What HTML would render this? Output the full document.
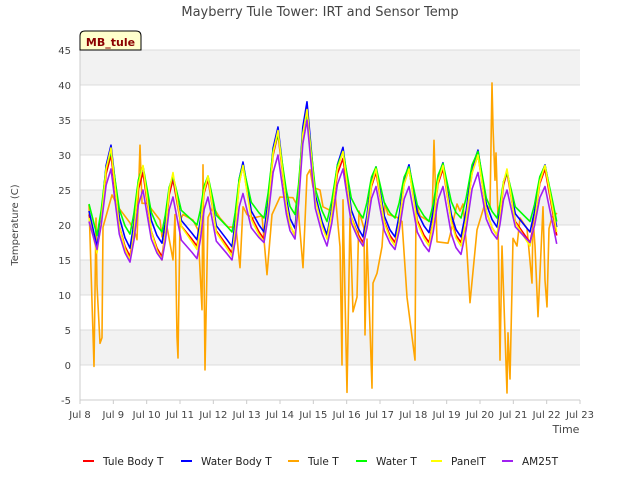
<!DOCTYPE html>
<html><head><meta charset="utf-8"><style>
body{margin:0;background:#fff;font-family:"DejaVu Sans","Liberation Sans",sans-serif}
svg text{font-family:"DejaVu Sans","Liberation Sans",sans-serif}
</style></head><body>
<svg id="chart" width="640" height="480" xmlns="http://www.w3.org/2000/svg">
<rect width="640" height="480" fill="#fff"/>
<text x="320" y="16" text-anchor="middle" font-size="13" fill="#444">Mayberry Tule Tower: IRT and Sensor Temp</text>
<g id="bands"></g><g id="grid"></g><g id="axes"></g><g id="series"></g>
<g>
<path d="M80,50 L80,36 Q80,31 85,31 L136,31 Q141,31 141,36 L141,50 Z" fill="#ffffcc" stroke="#000" stroke-width="1"/>
<text x="110.5" y="46" text-anchor="middle" font-size="11" font-weight="bold" fill="#8b0000">MB_tule</text>
</g>
<text x="566" y="433" text-anchor="middle" font-size="11" fill="#444">Time</text>
<text transform="translate(18,225) rotate(-90)" text-anchor="middle" font-size="10" fill="#444">Temperature (C)</text>
<g id="legend"></g>
</svg>
<script>
const xTickLabels=["Jul 8","Jul 9","Jul 10","Jul 11","Jul 12","Jul 13","Jul 14","Jul 15","Jul 16","Jul 17","Jul 18","Jul 19","Jul 20","Jul 21","Jul 22","Jul 23"];
const yTicks=[-5,0,5,10,15,20,25,30,35,40,45];
const troughTimes=[0.51,1.5,2.46,3.51,4.56,5.52,6.45,7.41,8.49,9.45,10.47,11.43,12.51,13.5];
const peakTimes=[0.93,1.89,2.79,3.84,4.89,5.94,6.81,7.89,8.88,9.87,10.89,11.94,12.81,13.95];
const blueT=[16.9,16.7,17.4,17.9,16.9,19,19.5,18.6,18.3,18.3,18.9,18.3,19.7,19];
const blueP=[31.4,28.3,27.1,26.9,29,34,37.6,31.1,28.3,28.6,28.9,30.7,27.7,28.6];
const greenT=[18.5,18.7,19,20,19,21,21.5,20.5,21,21,20.5,21,21,20.5];
const greenP=[30.5,28.4,27,27,28.5,33,36,30.5,28.3,28.3,28.8,30.5,27.5,28.5];
const redT=[16.5,15.5,15.5,17,16,18,18.5,18.5,17.5,17.5,17.5,17.5,18.5,17.5];
const redP=[30,27.5,26.5,26.5,28.5,33,37,29.5,27.5,28,28,30,27.5,28];
const yellowT=[16,15,15,16.5,15.5,17.5,18.5,18,17,17,17,17,18.5,17];
const yellowP=[31,28.5,27.5,27,28.5,33.5,36.5,30.5,28,28,28.5,30,28,28.5];
const purpleT=[16.5,14.7,15,15.2,15,17.5,18,17,17,16.5,16.2,15.8,18,17.5];
const purpleP=[28,25,24,24,24.5,30,35,28,25.5,25.5,25.5,27.5,25,25.5];
const startVals=[21.5,22,23,21,20.5];
const endVals=[18.5,19.7,20.5,19,17.3];
const tuleTimes=[0.27,0.42,0.48,0.51,0.6,0.66,0.69,0.96,1.14,1.5,1.65,1.71,1.8,1.86,2.01,2.4,2.46,2.58,2.79,2.85,2.91,2.94,3.0,3.09,3.39,3.54,3.66,3.69,3.75,3.84,3.99,4.2,4.44,4.68,4.8,4.89,5.01,5.19,5.46,5.61,5.76,6.0,6.39,6.54,6.69,6.81,6.9,6.99,7.2,7.29,7.5,7.65,7.8,7.86,7.89,8.01,8.1,8.19,8.31,8.37,8.52,8.55,8.61,8.76,8.79,8.91,9.06,9.15,9.24,9.51,9.66,9.81,10.05,10.08,10.2,10.41,10.56,10.62,10.71,11.04,11.1,11.31,11.4,11.49,11.61,11.7,11.91,12.15,12.3,12.36,12.39,12.45,12.48,12.54,12.6,12.66,12.81,12.84,12.9,12.96,12.99,13.11,13.2,13.41,13.56,13.59,13.65,13.74,13.89,13.95,14.01,14.07,14.16,14.31];
const tuleVals=[22.9,-0.2,21,11.4,3.1,3.9,19.7,24.3,22.6,20.3,18.9,17.9,31.4,23.1,23.1,20.7,18.3,20.5,15,21.5,4,1,20.7,21.5,20.7,19.3,7.9,28.6,-0.7,21.1,22.6,21,19.7,19.7,13.9,22.6,21.5,21,21.3,12.9,21.5,24,23.9,22.6,13.9,27.1,27.9,25.4,25,22.6,22.1,24.7,16.9,0,23.6,-3.9,21,7.6,9.7,22,19.5,4.3,18,-3.3,11.7,13.1,16.9,23.1,21.5,21.1,20.5,9.7,0.7,23.1,21.3,20.7,20.4,32.1,17.6,17.4,18.5,23,22,23,16.1,8.9,19.3,23.1,22.3,40.3,34,26.4,30.3,21,0.7,17,-4,4.6,-2,11,18.1,17,21,19.5,11.7,21,17,6.9,22.6,12.1,8.3,19.5,21.1,21.7];

const NS="http://www.w3.org/2000/svg";
const X0=80,X1=580,Y0=50,Y1=400;
function xScale(d){return X0+d*(X1-X0)/15;}
function yScale(v){return Y1-(v+5)*(Y1-Y0)/50;}
function mk(tag,attrs,parent){const e=document.createElementNS(NS,tag);for(const k in attrs)e.setAttribute(k,attrs[k]);parent.appendChild(e);return e;}
const bands=document.getElementById('bands'),grid=document.getElementById('grid'),axes=document.getElementById('axes');
for(let i=0;i<yTicks.length-1;i++){
  if(i%2===1){const b=mk('rect',{x:X0,y:yScale(yTicks[i+1]),width:X1-X0,height:yScale(yTicks[i])-yScale(yTicks[i+1]),fill:'#f2f2f2'},bands);
  
  }
}
yTicks.forEach(v=>{
  const l=mk('line',{x1:X0,x2:X1,y1:yScale(v),y2:yScale(v),stroke:'#dcdcdc','stroke-width':1},grid);
  
  
  const t=mk('text',{x:X0-9,y:yScale(v)+4,'text-anchor':'end','font-size':10,fill:'#444'},axes);
  t.textContent=v;
  
  
});
mk('line',{x1:X0,x2:X0,y1:Y0,y2:Y1,stroke:'#ccc'},axes);
mk('line',{x1:X0,x2:X1,y1:Y1,y2:Y1,stroke:'#ccc'},axes);
xTickLabels.forEach((s,i)=>{
  const x=xScale(i);
  mk('line',{x1:x,x2:x,y1:Y1,y2:Y1+4,stroke:'#ccc'},axes);
  const t=mk('text',{x:x,y:418,'text-anchor':'middle','font-size':10,fill:'#444'},axes);
  t.textContent=s;
  
  
});
function build(T,P,s,e){
  const pts=[[0.27,s]];
  for(let k=0;k<T.length;k++){
    const nT=k+1<T.length?T[k+1]:e;
    const tt=troughTimes[k],pt=peakTimes[k];
    const rise=pt-tt;
    pts.push([tt,T[k]]);
    pts.push([tt+rise*0.3,T[k]+0.3*(P[k]-T[k])]);
    pts.push([tt+rise*0.65,T[k]+0.8*(P[k]-T[k])]);
    pts.push([pt,P[k]]);
    pts.push([pt+0.1,nT+0.72*(P[k]-nT)]);
    pts.push([pt+0.25,nT+0.3*(P[k]-nT)]);
    if(k+1<T.length) pts.push([troughTimes[k+1]-0.15,nT+0.1*(P[k]-nT)]);
  }
  pts.push([14.3,e]);
  return pts;
}
const seriesG=document.getElementById('series');
function draw(pts,color,name,w){
  const p=mk('polyline',{points:pts.map(q=>xScale(q[0]).toFixed(1)+','+yScale(q[1]).toFixed(1)).join(' '),fill:'none',stroke:color,'stroke-width':w,'stroke-linejoin':'round'},seriesG);
  
  
}
draw(tuleTimes.map((t,i)=>[t,tuleVals[i]]),'#ffa500','tule-t-line',1.6);
draw(build(redT,redP,startVals[0],endVals[0]),'#ff0000','tule-body-t-line',1.6);
draw(build(blueT,blueP,startVals[1],endVals[1]),'#0000ff','water-body-t-line',1.6);
draw(build(greenT,greenP,startVals[2],endVals[2]),'#00ff00','water-t-line',1.6);
draw(build(yellowT,yellowP,startVals[3],endVals[3]),'#ffff00','panel-t-line',1.6);
draw(build(purpleT,purpleP,startVals[4],endVals[4]),'#a020f0','am25t-line',1.6);
const legendNames=["Tule Body T","Water Body T","Tule T","Water T","PanelT","AM25T"];
const legendColors=["#ff0000","#0000ff","#ffa500","#00ff00","#ffff00","#a020f0"];
const legendX=[83,181,288,356,431,502];
const lg=document.getElementById('legend');
legendNames.forEach((n,i)=>{
  const g=mk('g',{},lg);
  
  
  mk('line',{x1:legendX[i],x2:legendX[i]+11,y1:461,y2:461,stroke:legendColors[i],'stroke-width':2},g);
  const t=mk('text',{x:legendX[i]+20,y:465,'font-size':10.5,fill:'#222'},g);
  t.textContent=n;
});
</script>
</body></html>
